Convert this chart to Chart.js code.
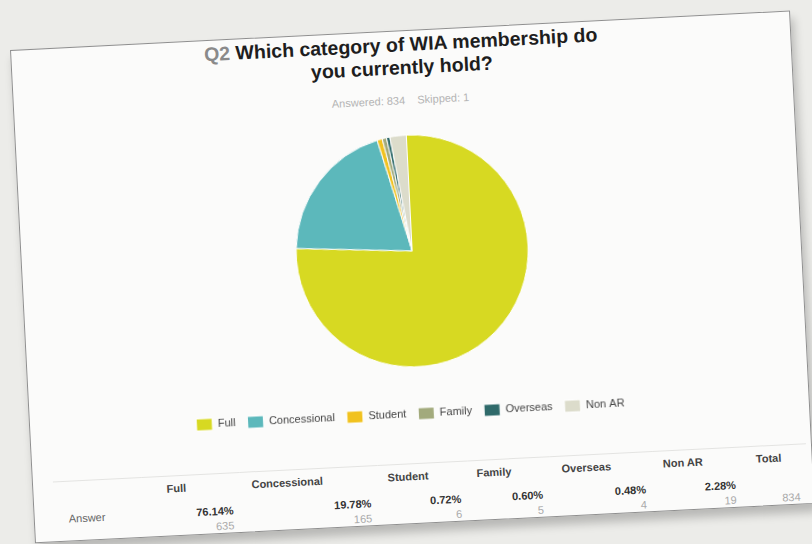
<!DOCTYPE html>
<html>
<head>
<meta charset="utf-8">
<script src="https://cdn.jsdelivr.net/npm/chart.js@4"></script>
<style>
  html, body { margin: 0; padding: 0; }
  body { width: 812px; height: 544px; overflow: hidden; background: #ecece9; font-family: "Liberation Sans", Arial, sans-serif; position: relative; }
  #card { position: absolute; left: 10px; top: 50px; width: 781px; height: 494px; background: #fbfbfa;
          border: 1.5px solid #8f8f8f; box-sizing: border-box; transform-origin: 0 0; transform: rotate(-2.9deg);
          box-shadow: 3px 8px 10px rgba(0,0,0,0.22); }
  #title { position: absolute; left: 0; top: 2px; width: 100%; text-align: center; font-weight: bold; font-size: 19.5px; line-height: 23px; color: #1e1e1e; }
  #title .q { color: #8a8a8a; }
  #subtitle { position: absolute; left: -3px; top: 63px; width: 100%; text-align: center; font-size: 11px; color: #b4b4b4; }
  #chartBox { position: absolute; left: 0; top: 75px; width: 781px; height: 324px; }
  table { position: absolute; left: 20px; top: 432px; border-collapse: collapse; table-layout: fixed; border-top: 1px solid #e4e4e2; }
  th { font-size: 11px; font-weight: bold; color: #444; height: 24px; padding: 0 30px 0 0; text-align: center; white-space: nowrap; }
  td { font-size: 11px; line-height: 15px; vertical-align: top; padding: 6px 8px 4px 0; text-align: right; white-space: nowrap; }
  td.lbl { text-align: left; padding-left: 14px; color: #666; }
  td .pct { font-weight: bold; color: #333; }
  td .cnt { color: #aaa; }
</style>
</head>
<body>
<div id="card">
  <div id="title"><span class="q">Q2</span> Which category of WIA membership do<br>you currently hold?</div>
  <div id="subtitle"></div>
  <div id="chartBox"><canvas id="c"></canvas></div>
  <table id="tbl"></table>
</div>
<script>
// ---- data ----
const categories = ['Full', 'Concessional', 'Student', 'Family', 'Overseas', 'Non AR'];
const counts = [635, 165, 6, 5, 4, 19];
const percentages = ['76.14%', '19.78%', '0.72%', '0.60%', '0.48%', '2.28%'];
const totalResponses = 834;
const answered = 834;
const skipped = 1;
const rowLabel = 'Answer';
const totalLabel = 'Total';

// ---- styling / layout ----
const sliceColors = ['#d7d922', '#5cb8bb', '#f1c21f', '#a2aa7c', '#2f6a6a', '#dcdccb'];
const colWidths = [89, 98, 138, 90, 82, 103, 90, 64];
const headPadRight = [30, 44, 30, 30, 30, 30, 12];

document.getElementById('subtitle').innerHTML = 'Answered: ' + answered + '&nbsp;&nbsp;&nbsp; Skipped: ' + skipped;

// table
const tbl = document.getElementById('tbl');
const cg = document.createElement('colgroup');
colWidths.forEach(w => { const c = document.createElement('col'); c.style.width = w + 'px'; cg.appendChild(c); });
tbl.appendChild(cg);
const heads = categories.concat([totalLabel]);
let head = '<tr><th></th>' + heads.map((c, i) => '<th style="padding-right:' + headPadRight[i] + 'px">' + c + '</th>').join('') + '</tr>';
let body = '<tr><td class="lbl">' + rowLabel + '</td>' +
  categories.map((c, i) => '<td><div class="pct">' + percentages[i] + '</div><div class="cnt">' + counts[i] + '</div></td>').join('') +
  '<td><div class="pct">&nbsp;</div><div class="cnt">' + totalResponses + '</div></td></tr>';
tbl.innerHTML += head + body;
tbl.style.width = colWidths.reduce((a, b) => a + b, 0) + 'px';

const legendShift = {
  id: 'legendShift',
  afterLayout(chart) {
    if (chart.legend) { chart.legend.left -= 10; chart.legend.right -= 10; }
  }
};

new Chart(document.getElementById('c'), {
  type: 'pie',
  data: {
    labels: categories,
    datasets: [{
      data: counts,
      backgroundColor: sliceColors,
      borderColor: '#ffffff',
      borderWidth: 1,
      radius: 116
    }]
  },
  plugins: [legendShift],
  options: {
    responsive: true,
    maintainAspectRatio: false,
    animation: false,
    layout: { padding: 0 },
    plugins: {
      tooltip: { enabled: false },
      legend: {
        position: 'bottom',
        labels: {
          boxWidth: 16,
          boxHeight: 12,
          padding: 12,
          color: '#444',
          font: { family: '"Liberation Sans", Arial, sans-serif', size: 11 }
        }
      }
    }
  }
});
</script>
</body>
</html>
